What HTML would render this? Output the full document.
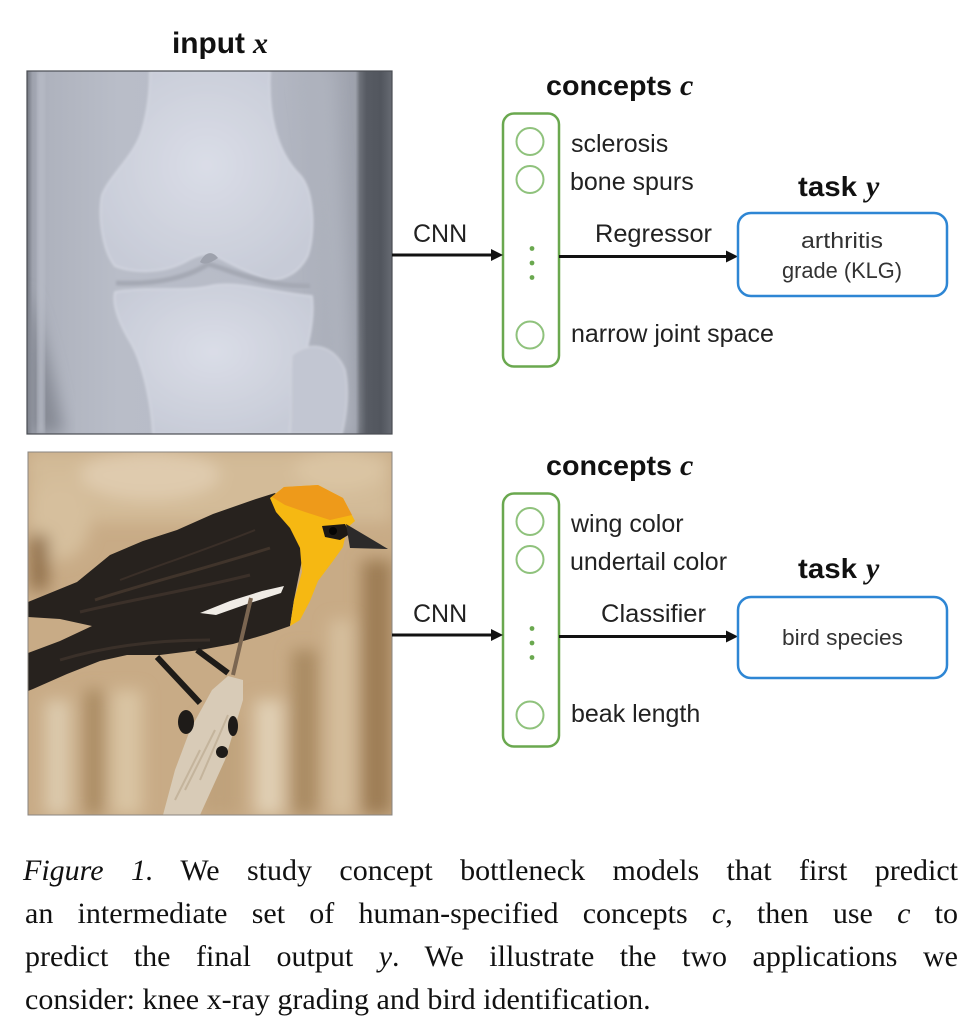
<!DOCTYPE html>
<html>
<head>
<meta charset="utf-8">
<style>
html,body{margin:0;padding:0;background:#fff;}
body{width:980px;height:1022px;position:relative;overflow:hidden;}
svg{position:absolute;left:0;top:0;}
.cap{position:absolute;font-family:"Liberation Serif",serif;font-size:30px;line-height:43px;height:43px;color:#111;white-space:nowrap;}
.j{text-align:justify;text-align-last:justify;white-space:normal;}
.sans{font-family:"Liberation Sans",sans-serif;}
.serif{font-family:"Liberation Serif",serif;}
</style>
</head>
<body>
<svg width="980" height="1022" viewBox="0 0 980 1022" xmlns="http://www.w3.org/2000/svg">
<defs>
  <linearGradient id="xg" x1="0" x2="1" y1="0" y2="0">
    <stop offset="0" stop-color="#70747d"/>
    <stop offset="0.015" stop-color="#9ea2ad"/>
    <stop offset="0.05" stop-color="#aeb2bd"/>
    <stop offset="0.25" stop-color="#b9bdc8"/>
    <stop offset="0.6" stop-color="#b7bbc7"/>
    <stop offset="0.8" stop-color="#adb1bc"/>
    <stop offset="0.9" stop-color="#9da1ac"/>
    <stop offset="0.912" stop-color="#6c7078"/>
    <stop offset="0.93" stop-color="#575b63"/>
    <stop offset="0.97" stop-color="#52565e"/>
    <stop offset="1" stop-color="#676b73"/>
  </linearGradient>
  <radialGradient id="bone" cx="0.5" cy="0.45" r="0.6">
    <stop offset="0" stop-color="#dadde7"/>
    <stop offset="1" stop-color="#c7cbd7"/>
  </radialGradient>
  <filter id="b1" x="-10%" y="-10%" width="120%" height="120%"><feGaussianBlur stdDeviation="1.2"/></filter>
  <filter id="b3" x="-20%" y="-20%" width="140%" height="140%"><feGaussianBlur stdDeviation="3"/></filter>
  <filter id="b7" x="-30%" y="-30%" width="160%" height="160%"><feGaussianBlur stdDeviation="8"/></filter>
  <clipPath id="cx"><rect x="27" y="71" width="365" height="363"/></clipPath>
  <clipPath id="cb"><rect x="28" y="452" width="364" height="363"/></clipPath>
</defs>

<!-- ===== X-RAY ===== -->
<g clip-path="url(#cx)">
  <rect x="27" y="71" width="365" height="363" fill="url(#xg)"/>
  <path d="M27,290 C42,330 55,385 64,434 L27,434 Z" fill="#868a94" filter="url(#b7)"/>
  <rect x="38" y="71" width="6" height="363" fill="#b9bdc8" filter="url(#b3)"/>
  <path d="M300,71 L330,71 C335,150 345,250 352,434 L330,434 C325,300 318,180 300,71 Z" fill="#aeb2bd" filter="url(#b7)"/>
  <g filter="url(#b1)">
    <path d="M150,71 L270,71 C268,110 275,150 300,175 C315,192 315,235 308,255 C300,272 285,280 270,280 C245,272 228,262 215,256 C205,252 195,256 185,262 C160,275 130,272 115,266 C102,250 98,215 102,195 C110,175 135,155 142,130 C148,110 150,90 150,71 Z" fill="url(#bone)" stroke="#d6d9e3" stroke-width="1.5"/>
    <path d="M115,292 C150,286 185,292 210,286 C235,280 270,292 312,296 C315,320 308,350 298,375 C292,400 290,420 290,434 L153,434 C152,410 145,370 132,345 C120,325 112,305 115,292 Z" fill="url(#bone)" stroke="#d6d9e3" stroke-width="1.5"/>
    <path d="M292,355 C310,340 335,345 345,370 C350,395 345,420 342,434 L290,434 C292,410 290,380 292,355 Z" fill="#c2c6d2" stroke="#d0d3dd" stroke-width="1.5"/>
  </g>
  <path d="M116,283 C160,285 190,276 208,264 C225,268 262,287 310,286" fill="none" stroke="#a5a9b4" stroke-width="5" filter="url(#b1)"/>
  <path d="M200,262 C205,252 212,250 218,258 C212,262 205,266 200,262 Z" fill="#9ea2ad"/>
</g>
<rect x="27" y="71" width="365" height="363" fill="none" stroke="#4a4d53" stroke-width="1.2"/>

<!-- ===== BIRD ===== -->
<g clip-path="url(#cb)">
  <rect x="28" y="452" width="364" height="363" fill="#c8ab86"/>
  <g filter="url(#b7)">
    <rect x="28" y="452" width="364" height="70" fill="#d3bb98"/>
    <ellipse cx="150" cy="475" rx="70" ry="25" fill="#dfcbae"/>
    <ellipse cx="340" cy="470" rx="45" ry="22" fill="#dac4a3"/>
    <ellipse cx="60" cy="520" rx="30" ry="40" fill="#d6bf9d"/>
    <rect x="45" y="700" width="25" height="115" fill="#dccaad"/>
    <rect x="112" y="690" width="30" height="125" fill="#d9c4a3"/>
    <rect x="255" y="700" width="28" height="115" fill="#e0cfb4"/>
    <rect x="330" y="620" width="22" height="195" fill="#d6c09f"/>
    <rect x="85" y="690" width="18" height="125" fill="#a88961"/>
    <rect x="292" y="650" width="25" height="165" fill="#a98a62"/>
    <rect x="362" y="560" width="30" height="255" fill="#9d7d55"/>
    <rect x="30" y="535" width="18" height="55" fill="#8f6e48"/>
    <rect x="200" y="720" width="40" height="95" fill="#bfa27b"/>
  </g>
  <!-- body -->
  <path d="M28,602 L77,582 L110,555 L143,541 L177,530 L213,514 L253,500 L275,493 L300,520 L302,560 L294,600 L290,626 L267,634 L233,644 L200,650 L160,655 L127,655 L100,661 L67,674 L33,689 L28,691 L28,653 L60,641 L92,626 L60,619 L28,617 Z" fill="#27221e"/>
  <path d="M95,600 C140,585 200,570 270,548" fill="none" stroke="#40342b" stroke-width="3"/>
  <path d="M80,612 C130,600 190,590 250,575" fill="none" stroke="#3b3029" stroke-width="3"/>
  <path d="M120,580 C160,565 210,548 255,530" fill="none" stroke="#3a2f28" stroke-width="2"/>
  <path d="M60,660 C110,645 160,640 210,640" fill="none" stroke="#3a3029" stroke-width="3"/>
  <!-- white wing patch -->
  <path d="M200,613 L230,601 L262,591 L284,586 L281,593 L250,603 L216,615 Z" fill="#f0ece6"/>
  <!-- head -->
  <path d="M270,498 L284,487 L318,485 L343,498 L355,521 L347,528 L343,547 L333,561 L318,581 L310,601 L300,620 L290,626 L294,600 L302,572 L300,548 L290,528 L276,512 Z" fill="#f6b812"/>
  <path d="M272,497 L284,487 L318,485 L343,498 L352,515 L330,520 L305,512 L285,505 Z" fill="#ee9a1a"/>
  <path d="M322,526 L345,524 L350,534 L340,540 L325,537 Z" fill="#1c1814"/>
  <circle cx="333" cy="531" r="4" fill="#050505"/>
  <!-- beak -->
  <path d="M346,524 L388,549 L350,548 Z" fill="#2c2a2a"/>
  <!-- reed stem -->
  <path d="M251,598 L233,675" stroke="#7b6651" stroke-width="4" fill="none"/>
  <!-- legs -->
  <path d="M157,657 L200,703" stroke="#1e1b18" stroke-width="6" fill="none"/>
  <path d="M197,650 L228,673" stroke="#1e1b18" stroke-width="6" fill="none"/>
  <!-- cattail -->
  <path d="M163,815 L200,815 L225,760 L243,700 L243,680 L228,676 L212,690 L190,730 L175,770 Z" fill="#d8cbb7"/>
  <path d="M175,800 L200,750 M185,790 L215,730 M200,780 L228,715" stroke="#c4b49c" stroke-width="2" fill="none"/>
  <!-- feet -->
  <ellipse cx="186" cy="722" rx="8" ry="12" fill="#1e1b18"/>
  <ellipse cx="233" cy="726" rx="5" ry="10" fill="#1e1b18"/>
  <ellipse cx="222" cy="752" rx="6" ry="6" fill="#1e1b18"/>
</g>
<rect x="28" y="452" width="364" height="363" fill="none" stroke="#8a8580" stroke-width="1"/>

<!-- ===== TOP DIAGRAM ===== -->
<text x="172" y="53" font-family="Liberation Sans, sans-serif" font-weight="bold" font-size="30" fill="#111" textLength="73" lengthAdjust="spacingAndGlyphs">input</text>
<text x="253" y="53" font-family="Liberation Serif, serif" font-style="italic" font-weight="bold" font-size="30" fill="#111">x</text>

<text x="546" y="95" font-family="Liberation Sans, sans-serif" font-weight="bold" font-size="28" fill="#111" textLength="126" lengthAdjust="spacingAndGlyphs">concepts</text>
<text x="680" y="95" font-family="Liberation Serif, serif" font-style="italic" font-weight="bold" font-size="30" fill="#111">c</text>

<rect x="503" y="113.5" width="56" height="253" rx="11" fill="none" stroke="#6aa84f" stroke-width="2.5"/>
<circle cx="530" cy="141.5" r="13.5" fill="none" stroke="#8fc27c" stroke-width="2"/>
<circle cx="530" cy="179.5" r="13.5" fill="none" stroke="#8fc27c" stroke-width="2"/>
<circle cx="530" cy="335" r="13.5" fill="none" stroke="#8fc27c" stroke-width="2"/>
<circle cx="532" cy="248.5" r="2.4" fill="#6aa84f"/>
<circle cx="532" cy="263" r="2.4" fill="#6aa84f"/>
<circle cx="532" cy="277.5" r="2.4" fill="#6aa84f"/>

<g font-family="Liberation Sans, sans-serif" font-size="25" fill="#222">
  <text x="571" y="152">sclerosis</text>
  <text x="570" y="190">bone spurs</text>
  <text x="571" y="342">narrow joint space</text>
  <text x="413" y="242">CNN</text>
  <text x="595" y="242" textLength="117" lengthAdjust="spacingAndGlyphs">Regressor</text>
</g>

<line x1="392" y1="255" x2="494" y2="255" stroke="#111" stroke-width="3"/>
<polygon points="491,249 503,255 491,261" fill="#111"/>
<line x1="559" y1="256.5" x2="728" y2="256.5" stroke="#111" stroke-width="3"/>
<polygon points="726,250.5 738,256.5 726,262.5" fill="#111"/>

<text x="798" y="196" font-family="Liberation Sans, sans-serif" font-weight="bold" font-size="28" fill="#111" textLength="59" lengthAdjust="spacingAndGlyphs">task</text>
<text x="866" y="196" font-family="Liberation Serif, serif" font-style="italic" font-weight="bold" font-size="30" fill="#111">y</text>

<rect x="738" y="213" width="209" height="83" rx="13" fill="none" stroke="#2e86d4" stroke-width="2.5"/>
<g font-family="Liberation Sans, sans-serif" font-size="22" fill="#333">
  <text x="801" y="248" textLength="82" lengthAdjust="spacingAndGlyphs">arthritis</text>
  <text x="782" y="278" textLength="120" lengthAdjust="spacingAndGlyphs">grade (KLG)</text>
</g>

<!-- ===== BOTTOM DIAGRAM ===== -->
<text x="546" y="475" font-family="Liberation Sans, sans-serif" font-weight="bold" font-size="28" fill="#111" textLength="126" lengthAdjust="spacingAndGlyphs">concepts</text>
<text x="680" y="475" font-family="Liberation Serif, serif" font-style="italic" font-weight="bold" font-size="30" fill="#111">c</text>

<rect x="503" y="493.5" width="56" height="253" rx="11" fill="none" stroke="#6aa84f" stroke-width="2.5"/>
<circle cx="530" cy="521.5" r="13.5" fill="none" stroke="#8fc27c" stroke-width="2"/>
<circle cx="530" cy="559.5" r="13.5" fill="none" stroke="#8fc27c" stroke-width="2"/>
<circle cx="530" cy="715" r="13.5" fill="none" stroke="#8fc27c" stroke-width="2"/>
<circle cx="532" cy="628.5" r="2.4" fill="#6aa84f"/>
<circle cx="532" cy="643" r="2.4" fill="#6aa84f"/>
<circle cx="532" cy="657.5" r="2.4" fill="#6aa84f"/>

<g font-family="Liberation Sans, sans-serif" font-size="25" fill="#222">
  <text x="571" y="532">wing color</text>
  <text x="570" y="570">undertail color</text>
  <text x="571" y="722">beak length</text>
  <text x="413" y="622">CNN</text>
  <text x="601" y="622" textLength="105" lengthAdjust="spacingAndGlyphs">Classifier</text>
</g>

<line x1="392" y1="635" x2="494" y2="635" stroke="#111" stroke-width="3"/>
<polygon points="491,629 503,635 491,641" fill="#111"/>
<line x1="559" y1="636.5" x2="728" y2="636.5" stroke="#111" stroke-width="3"/>
<polygon points="726,630.5 738,636.5 726,642.5" fill="#111"/>

<text x="798" y="578" font-family="Liberation Sans, sans-serif" font-weight="bold" font-size="28" fill="#111" textLength="59" lengthAdjust="spacingAndGlyphs">task</text>
<text x="866" y="578" font-family="Liberation Serif, serif" font-style="italic" font-weight="bold" font-size="30" fill="#111">y</text>

<rect x="738" y="597" width="209" height="81" rx="13" fill="none" stroke="#2e86d4" stroke-width="2.5"/>
<text x="782" y="645" font-family="Liberation Sans, sans-serif" font-size="22" fill="#333" textLength="121" lengthAdjust="spacingAndGlyphs">bird species</text>
</svg>

<!-- ===== CAPTION ===== -->
<div class="cap j" style="left:23px;top:849px;width:935px;"><i>Figure&nbsp;1.</i> We study concept bottleneck models that first predict</div>
<div class="cap j" style="left:25px;top:892px;width:933px;">an intermediate set of human-specified concepts <i>c</i>, then use <i>c</i> to</div>
<div class="cap j" style="left:25px;top:935px;width:933px;">predict the final output <i>y</i>. We illustrate the two applications we</div>
<div class="cap" style="left:25px;top:978px;">consider: knee x-ray grading and bird identification.</div>
</body>
</html>
